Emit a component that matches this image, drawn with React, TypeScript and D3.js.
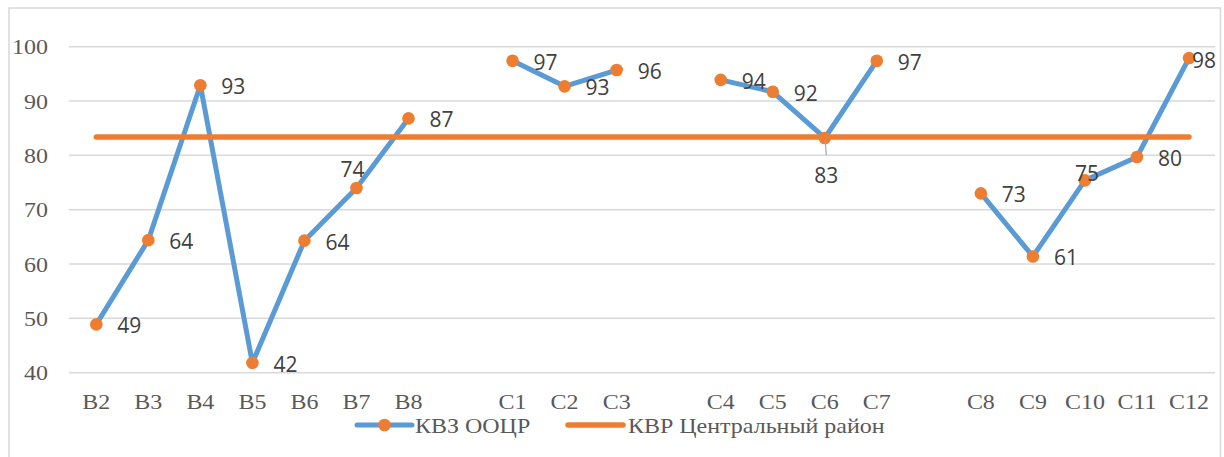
import React from "react";
import * as d3 from "d3";

// ---- data ----
const categories: string[] = [
  "B2", "B3", "B4", "B5", "B6", "B7", "B8", "",
  "C1", "C2", "C3", "",
  "C4", "C5", "C6", "C7", "",
  "C8", "C9", "C10", "C11", "C12",
];
const kvzValues: (number | null)[] = [
  48.9, 64.4, 92.9, 41.8, 64.3, 74.0, 86.8, null,
  97.4, 92.7, 95.7, null,
  93.9, 91.7, 83.2, 97.4, null,
  73.0, 61.4, 75.4, 79.7, 97.9,
];
const kvrValue = 83.4;
// label placement for each point
const labelPlacement: string[] = [
  "right", "right", "right", "right", "right", "above", "right", "",
  "right", "right", "right", "",
  "right", "right", "below", "right", "",
  "right", "right", "center", "right", "inside",
];
const yTicks: number[] = [40, 50, 60, 70, 80, 90, 100];
const seriesNames = ["КВЗ ООЦР", "КВР Центральный район"];

const BLUE = "#5b9bd5";
const ORANGE = "#ed7d31";
const SERIF = "'Liberation Serif', 'Times New Roman', serif";
const SANS = "'Open Sans', 'Noto Sans', sans-serif";
const SX = 1.09;

function SerifText(props: { x: number; y: number; anchor?: string; baseline?: string; children: any }) {
  return (
    <g transform={`translate(${props.x},${props.y}) scale(${SX},1)`}>
      <text
        x={0}
        y={0}
        textAnchor={(props.anchor || "start") as any}
        dominantBaseline={(props.baseline || "auto") as any}
        fontFamily={SERIF}
        fontSize={22}
        fill="#595959"
      >
        {props.children}
      </text>
    </g>
  );
}

export default function App() {
  const W = 1224;
  const H = 457;
  const keys = categories.map((_, i) => String(i));
  const x = d3.scalePoint<string>().domain(keys).range([96.3, 1189]);
  const y = d3.scaleLinear().domain([40, 100]).range([372.7, 46.7]);

  const line = d3
    .line<number | null>()
    .defined((d) => d != null)
    .x((_, i) => x(String(i)) as number)
    .y((d) => y(d as number));

  const xFirst = x(keys[0]) as number;
  const xLast = x(keys[keys.length - 1]) as number;

  const labelPos = (p: string, px: number, py: number) => {
    switch (p) {
      case "above":
        return { x: px - 4, y: py - 19, anchor: "middle" };
      case "below":
        return { x: px + 1.6, y: py + 37, anchor: "middle" };
      case "center":
        return { x: px + 2, y: py - 7, anchor: "middle" };
      case "inside":
        return { x: px + 3, y: py + 2, anchor: "start" };
      default:
        return { x: px + 21, y: py + 1, anchor: "start" };
    }
  };

  return (
    <svg
      width={W}
      height={H}
      style={{ position: "absolute", left: 0, top: 0, background: "#fff" }}
    >
      <rect x={9} y={8} width={1211.5} height={470} fill="#fff" stroke="#d9d9d9" strokeWidth={1.5} />
      {/* gridlines */}
      {yTicks.map((t) => (
        <line key={t} x1={69} x2={1215} y1={y(t)} y2={y(t)} stroke="#d9d9d9" strokeWidth={1.5} />
      ))}
      {/* y labels */}
      {yTicks.map((t) => (
        <SerifText key={"yl" + t} x={48} y={y(t)} anchor="end" baseline="central">
          {t}
        </SerifText>
      ))}
      {/* x labels */}
      {categories.map((c, i) =>
        c ? (
          <SerifText key={"xl" + i} x={x(String(i)) as number} y={409} anchor="middle">
            {c}
          </SerifText>
        ) : null
      )}
      {/* KVZ line */}
      <path d={line(kvzValues) || ""} fill="none" stroke={BLUE} strokeWidth={5} strokeLinejoin="round" strokeLinecap="round" />
      {kvzValues.map((v, i) =>
        v != null ? (
          <circle key={"m" + i} cx={x(String(i))} cy={y(v)} r={6.3} fill={ORANGE} />
        ) : null
      )}
      {/* KVR line (drawn on top) */}
      <line x1={xFirst} x2={xLast} y1={y(kvrValue)} y2={y(kvrValue)} stroke={ORANGE} strokeWidth={5.5} strokeLinecap="round" />
      {/* leader line for below label */}
      {kvzValues.map((v, i) =>
        v != null && labelPlacement[i] === "below" ? (
          <line
            key={"ll" + i}
            x1={(x(String(i)) as number) + 0.5}
            y1={y(v) + 2}
            x2={(x(String(i)) as number) + 1.5}
            y2={y(v) + 17}
            stroke="#a6a6a6"
            strokeWidth={1.2}
          />
        ) : null
      )}
      {/* data labels */}
      {kvzValues.map((v, i) => {
        if (v == null) return null;
        const px = x(String(i)) as number;
        const py = y(v);
        const p = labelPos(labelPlacement[i], px, py);
        return (
          <text
            key={"dl" + i}
            x={p.x}
            y={p.y}
            textAnchor={p.anchor as any}
            dominantBaseline="central"
            fontFamily={SANS}
            fontSize={21}
            fill="#404040"
          >
            {Math.round(v)}
          </text>
        );
      })}
      {/* legend */}
      <line x1={357} x2={412} y1={425} y2={425} stroke={BLUE} strokeWidth={5} strokeLinecap="round" />
      <circle cx={384.5} cy={425} r={6.3} fill={ORANGE} />
      <SerifText x={415} y={433}>{seriesNames[0]}</SerifText>
      <line x1={568} x2={623} y1={425} y2={425} stroke={ORANGE} strokeWidth={5.5} strokeLinecap="round" />
      <SerifText x={628} y={433}>{seriesNames[1]}</SerifText>
    </svg>
  );
}
